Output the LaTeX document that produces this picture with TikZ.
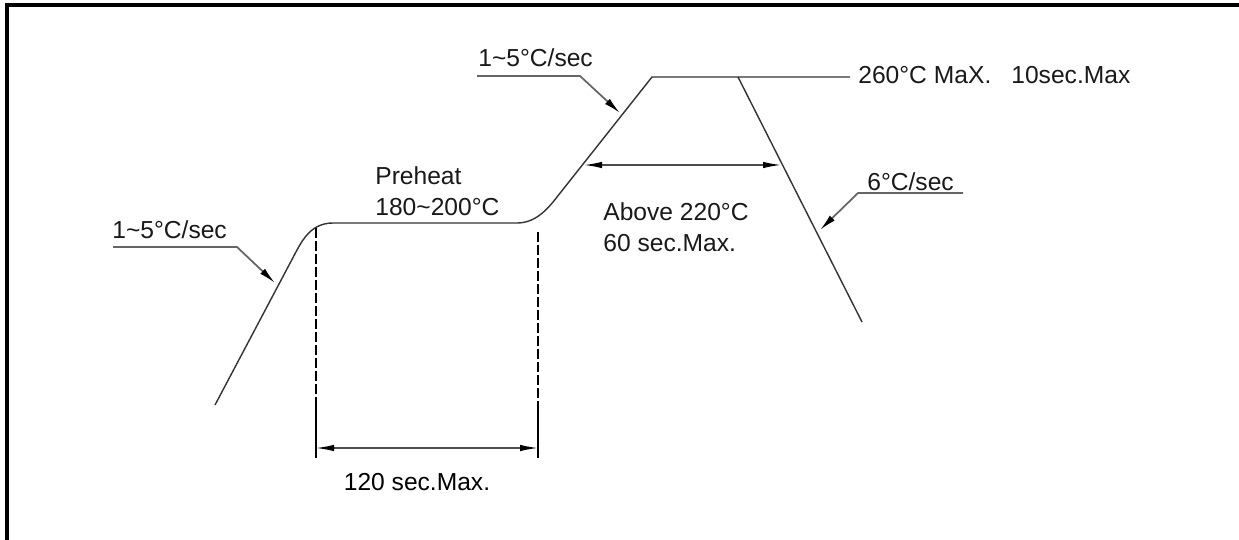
\documentclass[tikz,border=0pt]{standalone}
\usepackage{fontspec}
\setmainfont{Liberation Sans}
\usetikzlibrary{arrows.meta}
\usetikzlibrary{positioning}

\begin{document}
\begin{tikzpicture} [
  x=0.02cm, y=-0.02cm,
  every node/.style={font=\fontsize{14}{16}\selectfont, inner sep=0pt},
  txt/.style={anchor=west, text=black!90},
  frame/.style={draw=black, line width=1.8pt},
  profile/.style={draw=black!80, line width=0.8pt},
  leader/.style={draw=black!60, line width=1pt},
  pointer/.style={leader, -{Latex[length=3.4mm,width=1.4mm,black]}},
  span/.style={draw=black!70, line width=0.8pt, {Latex[length=3.6mm,width=1.3mm,black]}-{Latex[length=3.6mm,width=1.3mm,black]}},
  guide/.style={draw=black, line width=0.8pt},
  dashguide/.style={guide, dash pattern=on 0.2cm off 0.06cm}
  ]
  \useasboundingbox (0,0) rectangle (1239,540);
  \coordinate (f0) at (7,540);
  \coordinate (f1) at (7,5);
  \coordinate (f2) at (1239,5);
  \draw [frame] (f0) -- (f1) -- (f2);

  \coordinate (p0) at (215,405);
  \coordinate (p1) at (297,250);
  \coordinate (p2) at (333,223);
  \coordinate (p3) at (517,223);
  \coordinate (p4) at (557,197);
  \coordinate (p5) at (652,77);
  \coordinate (p6) at (738,77);
  \coordinate (p7) at (862,322);
  \coordinate (p8) at (850,77);
  \draw [profile] (p0) -- (p1) .. controls (303,239) and (312,223) .. (p2) -- (p3)
    .. controls (535,223) and (547,210) .. (p4) -- (p5) -- (p8);
  \draw [profile] (p6) -- (p7);

  \coordinate (d1a) at (316,228);
  \coordinate (d1b) at (316,405);
  \coordinate (d1c) at (316,458);
  \coordinate (d2a) at (538,232);
  \coordinate (d2b) at (538,405);
  \coordinate (d2c) at (538,458);
  \draw [dashguide] (d1a) -- (d1b);
  \draw [guide] (d1b) -- (d1c);
  \draw [dashguide] (d2a) -- (d2b);
  \draw [guide] (d2b) -- (d2c);

  \coordinate (s1a) at (316,448);
  \coordinate (s1b) at (538,448);
  \draw [span] (s1a) -- (s1b);
  \node (t120) at (417,482) {120 sec.Max.};

  \coordinate (s2a) at (584,165);
  \coordinate (s2b) at (781,165);
  \draw [span] (s2a) -- (s2b);

  \coordinate (l1a) at (113,247);
  \coordinate (l1b) at (237,247);
  \coordinate (l1c) at (275,283);
  \draw [pointer] (l1a) -- (l1b) -- (l1c);
  \node (rise1) [txt] at (112,230) {1\textasciitilde5°C/sec};

  \coordinate (l2a) at (477,76);
  \coordinate (l2b) at (580,76);
  \coordinate (l2c) at (620,113);
  \draw [pointer] (l2a) -- (l2b) -- (l2c);
  \node (rise2) [txt] at (478,58) {1\textasciitilde5°C/sec};

  \coordinate (l3a) at (963,193);
  \coordinate (l3b) at (858,193);
  \coordinate (l3c) at (820,230);
  \draw [pointer] (l3a) -- (l3b) -- (l3c);
  \node (cool) [txt] at (867,182) {6°C/sec};

  \node (preheat) [txt] at (375,176) {Preheat};
  \node (soak) [txt] at (375,207) {180\textasciitilde200°C};
  \node (above) [txt] at (603,212) {Above 220°C};
  \node (tal) [txt] at (603,243) {60 sec.Max.};
  \node (peak) [txt] at (858,75) {260°C\hspace{0.14cm}MaX.\hspace{0.4cm}10sec.Max};
\end{tikzpicture}
\end{document}
